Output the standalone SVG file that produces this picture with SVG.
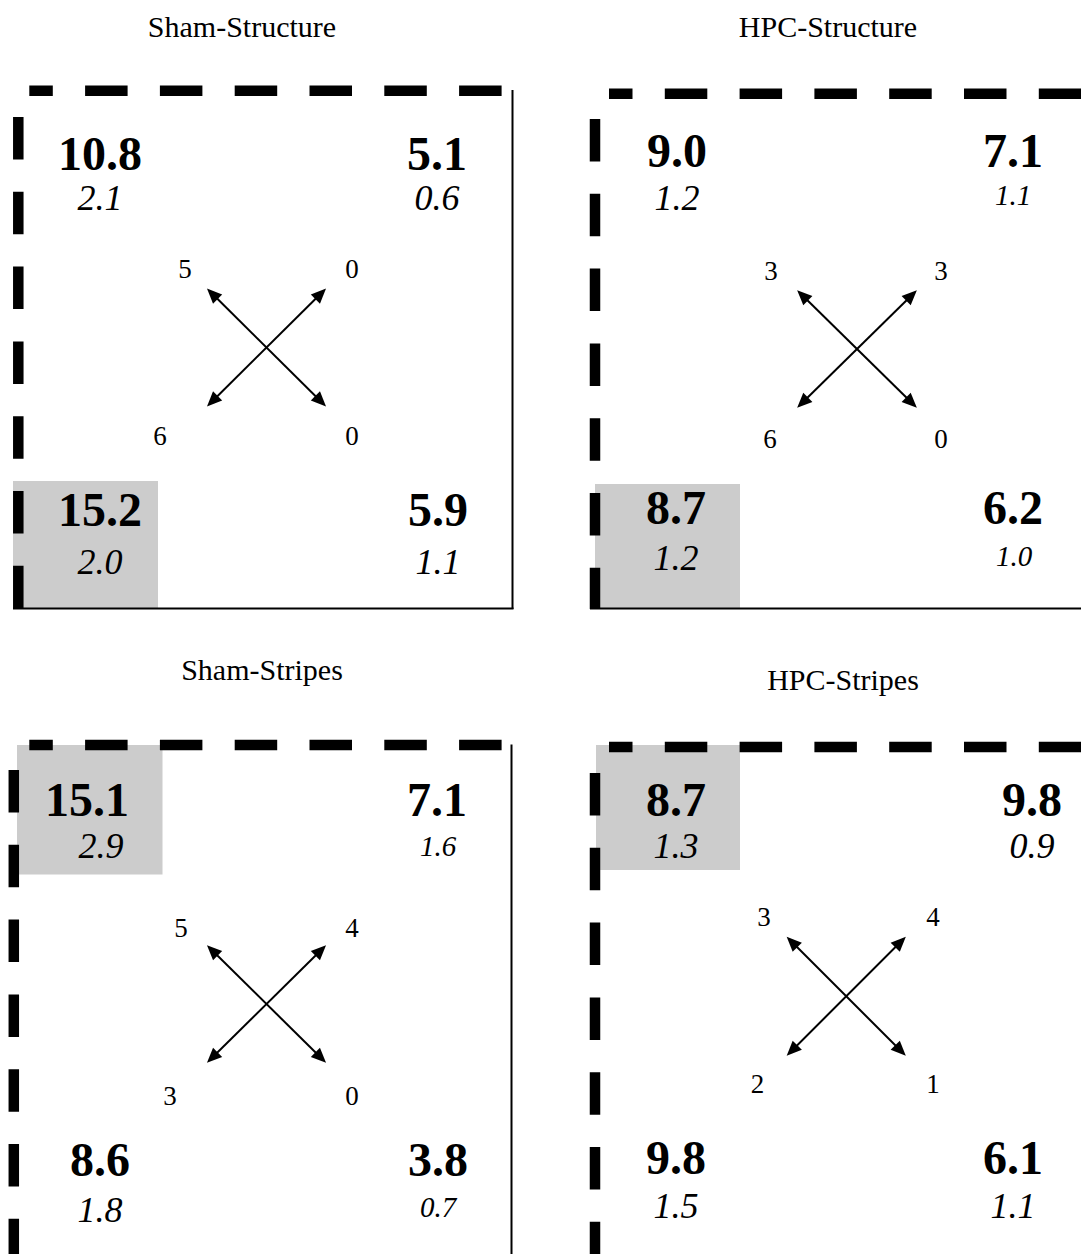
<svg xmlns="http://www.w3.org/2000/svg" width="1081" height="1254" viewBox="0 0 1081 1254">
<style>
.title{font-family:"Liberation Serif","Times New Roman",serif;font-size:30px;fill:#000;text-anchor:middle}
.mean{font-family:"Liberation Serif","Times New Roman",serif;font-size:48px;font-weight:bold;fill:#000;text-anchor:middle}
.sd{font-family:"Liberation Serif","Times New Roman",serif;font-size:36px;font-style:italic;fill:#000;text-anchor:middle}
.sds{font-family:"Liberation Serif","Times New Roman",serif;font-size:29px;font-style:italic;fill:#000;text-anchor:middle}
.cnt{font-family:"Liberation Serif","Times New Roman",serif;font-size:27px;fill:#000;text-anchor:middle}
.dash{stroke:#000;stroke-width:10.5;fill:none;stroke-dasharray:42.5 32.3}
.solid{stroke:#000;stroke-width:2;fill:none}
.gray{fill:#cccccc}
.arr{stroke:#000;stroke-width:2;fill:none;marker-start:url(#ah);marker-end:url(#ah)}
</style>
<defs>
<marker id="ah" viewBox="-16 -8 17 16" refX="-4" refY="0" markerWidth="17" markerHeight="16" markerUnits="userSpaceOnUse" orient="auto-start-reverse">
<path d="M0,0 L-15,-6.5 L-15,6.5 Z" fill="#000"/>
</marker>
</defs>
<rect width="1081" height="1254" fill="#fff"/>

<g id="panel-sham-structure">
<rect class="gray" x="13" y="481" width="145" height="127"/>
<line class="dash" x1="29.3" y1="90.7" x2="502" y2="90.7" stroke-dashoffset="19"/>
<line class="dash" x1="18.3" y1="117" x2="18.3" y2="609"/>
<line class="solid" x1="512.5" y1="90" x2="512.5" y2="609"/>
<line class="solid" x1="13" y1="608.5" x2="513.5" y2="608.5"/>
<text class="title" x="242" y="37">Sham-Structure</text>
<text class="mean" x="100" y="170">10.8</text>
<text class="sd" x="100" y="210">2.1</text>
<text class="mean" x="437" y="170">5.1</text>
<text class="sd" x="437" y="210">0.6</text>
<text class="mean" x="100" y="526">15.2</text>
<text class="sd" x="100" y="574">2.0</text>
<text class="mean" x="438" y="526">5.9</text>
<text class="sd" x="438" y="574">1.1</text>
<text class="cnt" x="185" y="278">5</text>
<text class="cnt" x="352" y="278">0</text>
<text class="cnt" x="160" y="445">6</text>
<text class="cnt" x="352" y="445">0</text>
</g>

<g id="panel-hpc-structure">
<rect class="gray" x="595" y="484" width="145" height="124"/>
<line class="dash" x1="609" y1="93.8" x2="1081" y2="93.8" stroke-dashoffset="19"/>
<line class="dash" x1="595" y1="119" x2="595" y2="609"/>
<line class="solid" x1="590" y1="608.5" x2="1081" y2="608.5"/>
<text class="title" x="828" y="37">HPC-Structure</text>
<text class="mean" x="677" y="167">9.0</text>
<text class="sd" x="677" y="210">1.2</text>
<text class="mean" x="1013" y="167">7.1</text>
<text class="sds" x="1013" y="205">1.1</text>
<text class="mean" x="676" y="524">8.7</text>
<text class="sd" x="676" y="570">1.2</text>
<text class="mean" x="1013" y="524">6.2</text>
<text class="sds" x="1014" y="566">1.0</text>
<text class="cnt" x="771" y="280">3</text>
<text class="cnt" x="941" y="280">3</text>
<text class="cnt" x="770" y="448">6</text>
<text class="cnt" x="941" y="448">0</text>
</g>

<g id="panel-sham-stripes">
<rect class="gray" x="17" y="745" width="145.5" height="129.5"/>
<line class="dash" x1="29.3" y1="745" x2="502" y2="745" stroke-dashoffset="19"/>
<line class="dash" x1="13.8" y1="770" x2="13.8" y2="1254"/>
<line class="solid" x1="511.5" y1="744.5" x2="511.5" y2="1254"/>
<text class="title" x="262" y="680">Sham-Stripes</text>
<text class="mean" x="87" y="816">15.1</text>
<text class="sd" x="101" y="858">2.9</text>
<text class="mean" x="437" y="816">7.1</text>
<text class="sds" x="438" y="856">1.6</text>
<text class="mean" x="100" y="1176">8.6</text>
<text class="sd" x="100" y="1222">1.8</text>
<text class="mean" x="438" y="1176">3.8</text>
<text class="sds" x="438" y="1217">0.7</text>
<text class="cnt" x="181" y="937">5</text>
<text class="cnt" x="352" y="937">4</text>
<text class="cnt" x="170" y="1105">3</text>
<text class="cnt" x="352" y="1105">0</text>
</g>

<g id="panel-hpc-stripes">
<rect class="gray" x="596" y="745" width="144" height="125"/>
<line class="dash" x1="609" y1="747" x2="1081" y2="747" stroke-dashoffset="19"/>
<line class="dash" x1="595" y1="773" x2="595" y2="1254"/>
<text class="title" x="843" y="690">HPC-Stripes</text>
<text class="mean" x="676" y="816">8.7</text>
<text class="sd" x="676" y="858">1.3</text>
<text class="mean" x="1032" y="816">9.8</text>
<text class="sd" x="1032" y="858">0.9</text>
<text class="mean" x="676" y="1174">9.8</text>
<text class="sd" x="676" y="1218">1.5</text>
<text class="mean" x="1013" y="1174">6.1</text>
<text class="sd" x="1013" y="1218">1.1</text>
<text class="cnt" x="764" y="926">3</text>
<text class="cnt" x="933" y="926">4</text>
<text class="cnt" x="757.5" y="1093">2</text>
<text class="cnt" x="933" y="1093">1</text>
</g>

<g id="connectors">
<line class="arr" x1="209.8" y1="291.3" x2="323.2" y2="403.7"/>
<line class="arr" x1="209.8" y1="403.7" x2="323.2" y2="291.3"/>
<line class="arr" x1="800" y1="293" x2="914" y2="405"/>
<line class="arr" x1="800" y1="405" x2="914" y2="293"/>
<line class="arr" x1="209.8" y1="948" x2="323.2" y2="1060"/>
<line class="arr" x1="209.8" y1="1060" x2="323.2" y2="948"/>
<line class="arr" x1="789.5" y1="939.5" x2="903" y2="1053"/>
<line class="arr" x1="789.5" y1="1053" x2="903" y2="939.5"/>
</g>
</svg>
